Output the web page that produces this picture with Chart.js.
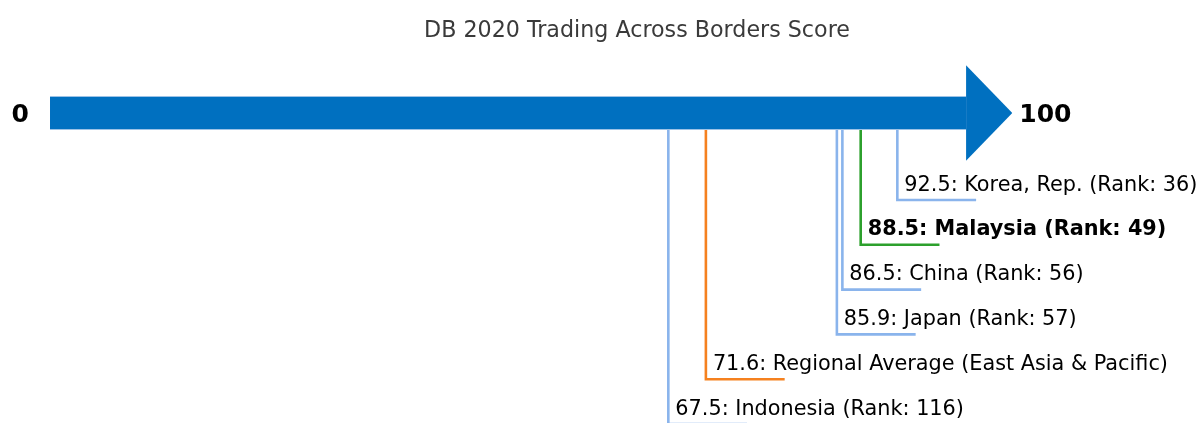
<!DOCTYPE html>
<html>
<head>
<meta charset="utf-8">
<script src="https://cdn.jsdelivr.net/npm/chart.js@4.4.0/dist/chart.umd.min.js"></script>
<style>
html,body{margin:0;padding:0;background:#fff;}
#wrap{width:1202px;height:423px;position:relative;}
</style>
</head>
<body>
<div id="wrap"><canvas id="c" width="1202" height="423"></canvas></div>
<script>
// ---- data ----
const chartTitle = "DB 2020 Trading Across Borders Score";
const economies = ["Korea, Rep.", "Malaysia", "China", "Japan", "Regional Average (East Asia & Pacific)", "Indonesia"];
const scores = [92.5, 88.5, 86.5, 85.9, 71.6, 67.5];
const ranks = [36, 49, 56, 57, null, 116];
const scaleMin = 0;
const scaleMax = 100;

// ---- styling / layout ----
const COL_ARROW = "#0070c0";
const COL_PEER = "#8ab4ec";
const COL_AVG = "#f5811f";
const COL_FOCUS = "#2ca02c";
const focusName = "Malaysia";
const avgPrefix = "Regional Average";
const ARROW_Y = 113;          // y units = canvas rows
const ROW0 = 200, ROW_STEP = 44.8;
const HOOK_LEN = 8.6;         // in score units
const HEAD_LEN = 5.05, HEAD_HALF = 47.8;
const FONT = "'DejaVu Sans', sans-serif";

function colorFor(name){
  if (name === focusName) return COL_FOCUS;
  if (name.startsWith(avgPrefix)) return COL_AVG;
  return COL_PEER;
}
function labelFor(i){
  const n = economies[i];
  return scores[i].toFixed(1) + ": " + n + (ranks[i] != null ? " (Rank: " + ranks[i] + ")" : "");
}

const datasets = [];
// arrow body
datasets.push({data:[{x:scaleMin,y:ARROW_Y},{x:scaleMax,y:ARROW_Y}], borderColor:COL_ARROW, borderWidth:32, borderCapStyle:'butt', pointRadius:0, showLine:true, fill:false});
// arrow head (upper and lower halves, each filled to the arrow's axis)
datasets.push({data:[{x:scaleMax,y:ARROW_Y-HEAD_HALF},{x:scaleMax+HEAD_LEN,y:ARROW_Y}], borderWidth:0, borderColor:COL_ARROW, backgroundColor:COL_ARROW, pointRadius:0, showLine:true, fill:{value:ARROW_Y}});
datasets.push({data:[{x:scaleMax,y:ARROW_Y+HEAD_HALF},{x:scaleMax+HEAD_LEN,y:ARROW_Y}], borderWidth:0, borderColor:COL_ARROW, backgroundColor:COL_ARROW, pointRadius:0, showLine:true, fill:{value:ARROW_Y}});
// faint body edge
datasets.push({data:[{x:scaleMin,y:ARROW_Y},{x:scaleMax,y:ARROW_Y}], borderColor:"#9cc2e6", borderWidth:34, borderCapStyle:'butt', pointRadius:0, showLine:true, fill:false});
// hooks
scores.forEach((v,i)=>{
  const yy = ROW0 + i*ROW_STEP;
  datasets.push({data:[{x:v,y:ARROW_Y},{x:v,y:yy},{x:v+HOOK_LEN,y:yy}], borderColor:colorFor(economies[i]), borderWidth:2.6, pointRadius:0, showLine:true, fill:false, borderJoinStyle:'miter'});
});

const textPlugin = {
  id:'texts',
  afterDatasetsDraw(chart){
    const ctx = chart.ctx, xs = chart.scales.x, ys = chart.scales.y;
    ctx.save();
    ctx.textBaseline = 'alphabetic';
    // title
    ctx.fillStyle = '#3a3a3a';
    ctx.font = "22.2px " + FONT;
    ctx.textAlign = 'center';
    ctx.fillText(chartTitle, 637, 37);
    // ends
    ctx.fillStyle = '#000';
    ctx.font = "bold 25px " + FONT;
    ctx.textAlign = 'left';
    ctx.fillText(String(scaleMin), 11.5, ys.getPixelForValue(ARROW_Y) + 9);
    ctx.fillText(String(scaleMax), xs.getPixelForValue(scaleMax+HEAD_LEN) + 7, ys.getPixelForValue(ARROW_Y) + 9);
    // labels
    scores.forEach((v,i)=>{
      const yy = ys.getPixelForValue(ROW0 + i*ROW_STEP) - 9.5;
      const x = xs.getPixelForValue(v) + 7;
      ctx.font = (economies[i]===focusName ? "bold " : "") + "20.8px " + FONT;
      ctx.fillStyle = '#000';
      ctx.fillText(labelFor(i), x, yy);
    });
    ctx.restore();
  }
};

new Chart(document.getElementById('c'), {
  type:'scatter',
  data:{datasets},
  options:{
    responsive:false, animation:false,
    layout:{padding:0},
    plugins:{legend:{display:false}, tooltip:{enabled:false}, title:{display:false}},
    scales:{
      x:{type:'linear', min:-5.46, max:125.76, display:false},
      y:{type:'linear', min:0, max:423, reverse:true, display:false}
    }
  },
  plugins:[textPlugin]
});
</script>
</body>
</html>
